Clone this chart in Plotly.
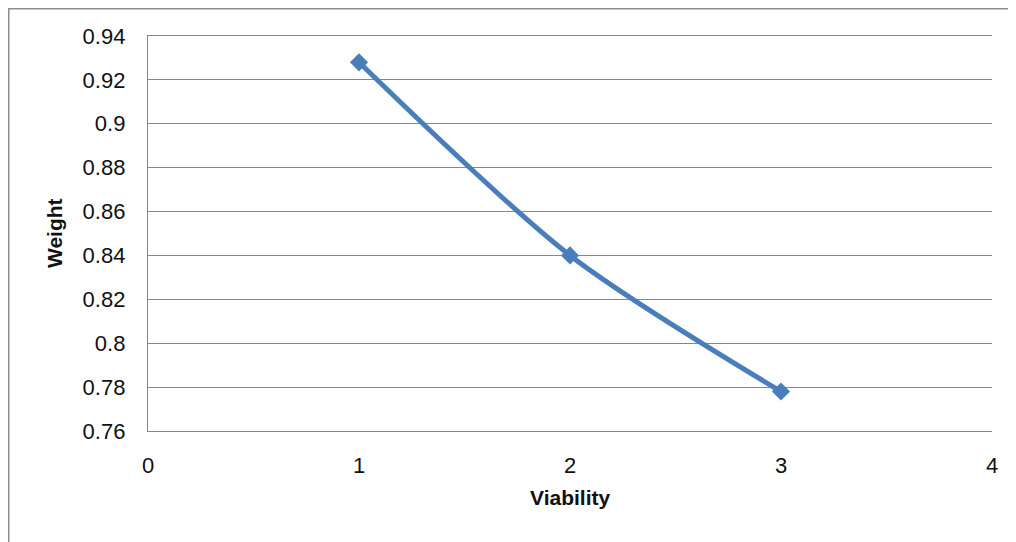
import plotly.graph_objects as go

viability = [1, 2, 3]
weight = [0.928, 0.840, 0.778]

x_ticks = [0, 1, 2, 3, 4]
x_ticktext = ["0", "1", "2", "3", "4"]
y_ticks = [0.76, 0.78, 0.80, 0.82, 0.84, 0.86, 0.88, 0.90, 0.92, 0.94]
y_ticktext = ["0.76", "0.78", "0.8", "0.82", "0.84", "0.86", "0.88", "0.9", "0.92", "0.94"]

# page has an 8px body margin; figure sits at (8, 8)
OFF = 8
W, H = 1008, 534
L, R, T, B = 140, 24, 28, 111
pw, ph = W - L - R, H - T - B

def px_to_paper_x(px):
    return (px - OFF - L) / pw

def px_to_paper_y(py):
    return (H - B - (py - OFF)) / ph

FONT = "Liberation Sans, Arial, sans-serif"
GRID = "#878787"
BLUE = "#4A7EBB"
TXT = "#111111"

fig = go.Figure()
fig.add_trace(go.Scatter(
    x=viability, y=weight, mode="lines+markers",
    line=dict(color=BLUE, width=5, shape="spline", smoothing=0.8),
    marker=dict(symbol="diamond", size=14, color=BLUE),
    showlegend=False,
))

fig.update_layout(
    width=W, height=H,
    margin=dict(l=L, r=R, t=T, b=B, pad=0),
    paper_bgcolor="white", plot_bgcolor="white",
    font=dict(family=FONT, size=22, color=TXT),
    xaxis=dict(
        range=[0, 4], tickvals=x_ticks, ticktext=x_ticktext,
        showgrid=False, zeroline=False,
        showline=True, linecolor=GRID, linewidth=1.3, mirror=True,
        ticks="", ticklabelstandoff=14,
    ),
    yaxis=dict(
        range=[0.76, 0.94], tickvals=y_ticks, ticktext=y_ticktext,
        showgrid=True, gridcolor=GRID, gridwidth=1.3,
        zeroline=False, showline=True, linecolor=GRID, linewidth=1.3,
        ticks="", ticklabelstandoff=17,
    ),
    annotations=[
        dict(text="<b>Viability</b>", x=px_to_paper_x(570), y=px_to_paper_y(497),
             xref="paper", yref="paper", showarrow=False,
             xanchor="center", yanchor="middle", font=dict(size=21, family=FONT, color=TXT)),
        dict(text="<b>Weight</b>", x=px_to_paper_x(54), y=px_to_paper_y(233),
             xref="paper", yref="paper", showarrow=False, textangle=-90,
             xanchor="center", yanchor="middle", font=dict(size=21, family=FONT, color=TXT)),
    ],
    shapes=[
        dict(type="rect", xref="paper", yref="paper",
             x0=px_to_paper_x(8.75), x1=px_to_paper_x(1040),
             y0=px_to_paper_y(580), y1=px_to_paper_y(8.75),
             line=dict(color="#8C8C8C", width=1.5), fillcolor="rgba(0,0,0,0)", layer="below"),
    ],
)

fig.write_html("out.html")
